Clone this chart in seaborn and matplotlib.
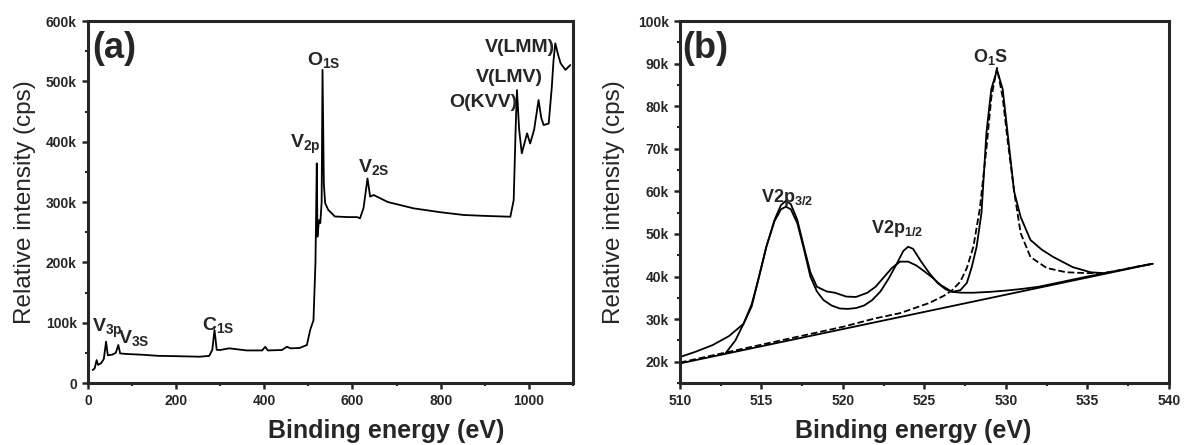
import matplotlib
matplotlib.use("Agg")
import matplotlib.pyplot as plt
import seaborn as sns
from matplotlib.ticker import MultipleLocator, FuncFormatter

# survey spectrum (a): binding energy (eV) and counts (cps)
survey_energy = [10.6, 15, 19.7, 23, 30, 36, 41, 45, 55, 63, 68.9, 73, 90, 120, 160, 200,
                 254, 275, 282, 287, 292, 300, 320, 360, 395, 402, 408, 440, 451, 460,
                 480, 496.5, 504, 511.5, 516, 519, 520.5, 524, 527, 530, 532, 535, 538,
                 545, 560, 590, 610, 617, 625, 634, 640, 648, 680, 738.5, 800, 852, 900,
                 958, 965.6, 970, 973, 978, 984, 996, 1003, 1012, 1022, 1028, 1033.5,
                 1045, 1052, 1056, 1060, 1066, 1072, 1083, 1094]
survey_counts = [21500, 24000, 38000, 30000, 33000, 40000, 68500, 46000, 47000, 50000,
                 63000, 49000, 48000, 47000, 45000, 44500, 43600, 45000, 55000, 87800,
                 55000, 54700, 57500, 54000, 54000, 60000, 54000, 54700, 60000, 57500,
                 58000, 63000, 87800, 104000, 200000, 364000, 242500, 270000, 265000,
                 300000, 519000, 330000, 298000, 287000, 276000, 275000, 275000, 273000,
                 290000, 339000, 309000, 311600, 300000, 289500, 283000, 278500, 277000,
                 275600, 303000, 420000, 485600, 420000, 380700, 413800, 397000, 420000,
                 469000, 440000, 427600, 430000, 490000, 535000, 563000, 545000, 530000,
                 519000, 527000]

# high resolution V2p / O1s region (b)
raw_energy = [510, 511, 512, 513, 513.9, 514.4, 514.8, 515.3, 515.8, 516.2, 516.5, 516.8,
              517.2, 517.6, 518.0, 518.4, 519, 519.5, 520.2, 520.8, 521.5, 522, 522.5,
              523, 523.5, 524, 524.5, 525, 525.5, 526, 526.7, 527.2, 527.6, 527.9, 528.2,
              528.5, 528.8, 529.1, 529.45, 529.8, 530.1, 530.5, 530.9, 531.5, 532.2,
              532.9, 534.1, 535.2, 536, 537, 538, 539]
raw_counts = [21100, 22400, 23900, 26000, 28900, 33000, 39200, 47000, 53300, 56800, 57800,
              57000, 53300, 47000, 41000, 37600, 36500, 36200, 35300, 35200, 36200, 37600,
              39800, 42000, 43500, 43500, 42600, 41200, 39700, 38000, 36400, 36800, 38500,
              42200, 47000, 55000, 73700, 84000, 88500, 84000, 73700, 60000, 54000, 48600,
              46300, 44600, 42200, 41000, 40800, 41500, 42300, 43000]

fit_energy = [512.8, 513.4, 513.9, 514.4, 514.8, 515.3, 515.8, 516.2, 516.5, 516.8, 517.2,
              517.6, 518.0, 518.4, 518.8, 519.3, 519.8, 520.3, 520.8, 521.3, 521.8, 522.3,
              522.8, 523.3, 523.7, 524, 524.3, 524.8, 525.3, 525.8, 526.3, 526.7, 527.3,
              528, 529, 530, 531, 532, 533, 534, 535, 536]
fit_counts = [22000, 25000, 28900, 33500, 39200, 47000, 53000, 55800, 56400, 55800, 52500,
              46500, 40000, 36500, 34500, 33200, 32500, 32400, 32600, 33200, 34500, 36500,
              39500, 43000, 46000, 47000, 46500, 43500, 40800, 38500, 37000, 36400, 36200,
              36200, 36400, 36700, 37100, 37600, 38400, 39200, 40000, 40700]

o1s_energy = [510, 515, 520, 522, 523.5, 525.3, 526.2, 526.7, 527.2, 527.6, 528, 528.4,
              528.8, 529.1, 529.45, 529.8, 530.1, 530.5, 530.9, 531.5, 532.5, 533.7, 535,
              536, 537, 538, 539]
o1s_counts = [19800, 24000, 28200, 30200, 31400, 33800, 35500, 36800, 38800, 42000, 47000,
              56000, 70000, 82000, 89000, 82000, 72000, 60000, 50200, 44600, 42000, 41000,
              40800, 40800, 41500, 42300, 43000]

bg_energy = [510, 539]
bg_counts = [19600, 43000]

sns.set_style("ticks")
plt.rcParams["font.family"] = ["Liberation Sans", "DejaVu Sans"]
plt.rcParams["font.weight"] = "bold"
plt.rcParams["mathtext.fontset"] = "custom"
plt.rcParams["mathtext.rm"] = "Liberation Sans:bold"
plt.rcParams["mathtext.it"] = "Liberation Sans:bold"
plt.rcParams["mathtext.bf"] = "Liberation Sans:bold"
plt.rcParams["mathtext.default"] = "rm"

fig = plt.figure(figsize=(11.84, 4.45), dpi=100)
ax1 = fig.add_axes([0.0743, 0.1393, 0.4096, 0.8135])
ax2 = fig.add_axes([0.5743, 0.1393, 0.413, 0.8135])

kfmt = FuncFormatter(lambda v, p: "0" if v == 0 else f"{int(round(v / 1000))}k")

# (a) survey
sns.lineplot(x=survey_energy, y=survey_counts, ax=ax1, color="black", lw=1.3,
             estimator=None)
ax1.set_xlim(0, 1100)
ax1.set_ylim(0, 600000)
ax1.xaxis.set_major_locator(MultipleLocator(200))
ax1.xaxis.set_minor_locator(MultipleLocator(100))
ax1.yaxis.set_major_locator(MultipleLocator(100000))
ax1.yaxis.set_minor_locator(MultipleLocator(50000))

lab_a = 14
ax1.text(9, 539000, "(a)", fontsize=26)
ax1.text(9, 84500, "V$_{3p}$", fontsize=lab_a)
ax1.text(68, 66000, "V$_{3S}$", fontsize=lab_a)
ax1.text(259, 88000, "C$_{1S}$", fontsize=lab_a)
ax1.text(458, 389500, "V$_{2p}$", fontsize=lab_a)
ax1.text(496, 527000, "O$_{1S}$", fontsize=lab_a)
ax1.text(613, 349700, "V$_{2S}$", fontsize=lab_a)
ax1.text(1060, 548600, "V(LMM)", fontsize=lab_a, ha="right")
ax1.text(1031, 499000, "V(LMV)", fontsize=lab_a, ha="right")
ax1.text(974, 457500, "O(KVV)", fontsize=lab_a, ha="right")

# (b) V2p and O1s core levels
sns.lineplot(x=bg_energy, y=bg_counts, ax=ax2, color="black", lw=1.3, estimator=None)
sns.lineplot(x=o1s_energy, y=o1s_counts, ax=ax2, color="black", lw=1.3,
             linestyle="--", estimator=None)
sns.lineplot(x=fit_energy, y=fit_counts, ax=ax2, color="black", lw=1.3, estimator=None)
sns.lineplot(x=raw_energy, y=raw_counts, ax=ax2, color="black", lw=1.3, estimator=None)
ax2.set_xlim(510, 540)
ax2.set_ylim(15000, 100000)
ax2.xaxis.set_major_locator(MultipleLocator(5))
ax2.xaxis.set_minor_locator(MultipleLocator(2.5))
ax2.yaxis.set_major_locator(MultipleLocator(10000))
ax2.yaxis.set_minor_locator(MultipleLocator(5000))

lab_b = 13
ax2.text(510.15, 91300, "(b)", fontsize=26)
ax2.text(515.0, 57600, "V2p$_{3/2}$", fontsize=lab_b)
ax2.text(521.7, 50200, "V2p$_{1/2}$", fontsize=lab_b)
ax2.text(528.0, 90400, "O$_{1}$S", fontsize=lab_b)

for ax, ylx, xlx in ((ax1, -0.108, 0.614), (ax2, -0.112, 0.477)):
    ax.yaxis.set_major_formatter(kfmt)
    for side in ("top", "right", "bottom", "left"):
        ax.spines[side].set_visible(True)
        ax.spines[side].set_linewidth(2.2)
    ax.tick_params(which="major", direction="out", length=4, width=1.8,
                   labelsize=10, pad=4, top=False, right=False)
    ax.tick_params(which="minor", direction="out", length=2.5, width=1.5,
                   top=False, right=False)
    ax.set_xlabel("Binding energy (eV)", fontsize=18, fontweight="bold")
    ax.set_ylabel("Relative intensity (cps)", fontsize=17.5, fontweight="normal")
    ax.xaxis.set_label_coords(xlx, -0.1)
    ax.yaxis.set_label_coords(ylx, 0.5)

fig.savefig("out.png", dpi=100)
